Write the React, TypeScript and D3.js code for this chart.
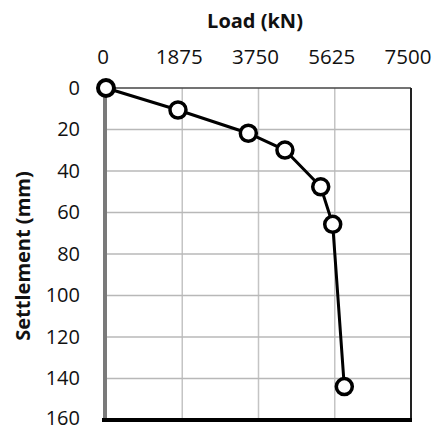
import React from "react";
import * as d3 from "d3";

const loads = [0, 1770, 3500, 4400, 5280, 5575, 5860];
const settlements = [0, 10.6, 21.8, 29.9, 47.6, 65.7, 143.9];
const xTicks = [0, 1875, 3750, 5625, 7500];
const yTicks = [0, 20, 40, 60, 80, 100, 120, 140, 160];
const xTitle = "Load (kN)";
const yTitle = "Settlement (mm)";

export default function App() {
  const W = 436, H = 430;
  const left = 106, right = 411, top = 88, bottom = 420;
  const x = d3.scaleLinear().domain([0, 7500]).range([left, right]);
  const y = d3.scaleLinear().domain([0, 160]).range([top, bottom]);
  const pts = loads.map((l, i) => [x(l), y(settlements[i])] as [number, number]);
  const line = d3.line()(pts) || "";
  const font = "'Open Sans', 'Liberation Sans', sans-serif";
  return (
    <svg width={W} height={H} style={{ position: "absolute", left: 0, top: 0, background: "#fff" }} fontFamily={font}>
      <rect x={0} y={0} width={W} height={H} fill="#fff" />
      {xTicks.slice(1, -1).map((t) => (
        <line key={"gx" + t} x1={x(t)} x2={x(t)} y1={top} y2={bottom} stroke="#c4c4c4" strokeWidth={1.5} />
      ))}
      {yTicks.slice(1, -1).map((t) => (
        <line key={"gy" + t} x1={left} x2={right} y1={y(t)} y2={y(t)} stroke="#b8b8b8" strokeWidth={1.5} />
      ))}
      <line x1={left} x2={right} y1={top} y2={top} stroke="#444" strokeWidth={1.5} />
      <line x1={right} x2={right} y1={top} y2={bottom} stroke="#222" strokeWidth={2} />
      <line x1={left - 1} x2={left - 1} y1={top} y2={bottom} stroke="#7a7a7a" strokeWidth={4} />
      <line x1={left - 4} x2={right + 1} y1={bottom} y2={bottom} stroke="#000" strokeWidth={4} />
      {xTicks.map((t) => (
        <text key={"tx" + t} x={x(t) - 3} y={64} textAnchor="middle" fontSize={20.5} fill="#111">{t}</text>
      ))}
      {yTicks.map((t) => (
        <text key={"ty" + t} x={80} y={Math.min(y(t) + 6.5, H - 5.5)} textAnchor="end" fontSize={20} fill="#111">{t}</text>
      ))}
      <text x={255} y={28} textAnchor="middle" fontSize={20} fontWeight="bold" fill="#111">{xTitle}</text>
      <text transform={`translate(30,${256}) rotate(-90)`} textAnchor="middle" fontSize={20} fontWeight="bold" fill="#111">{yTitle}</text>
      <path d={line} fill="none" stroke="#000" strokeWidth={3} />
      {pts.map(([px, py], i) => (
        <circle key={"p" + i} cx={px} cy={py} r={8} fill="#fff" stroke="#000" strokeWidth={i === 0 ? 4 : 3.5} />
      ))}
    </svg>
  );
}
